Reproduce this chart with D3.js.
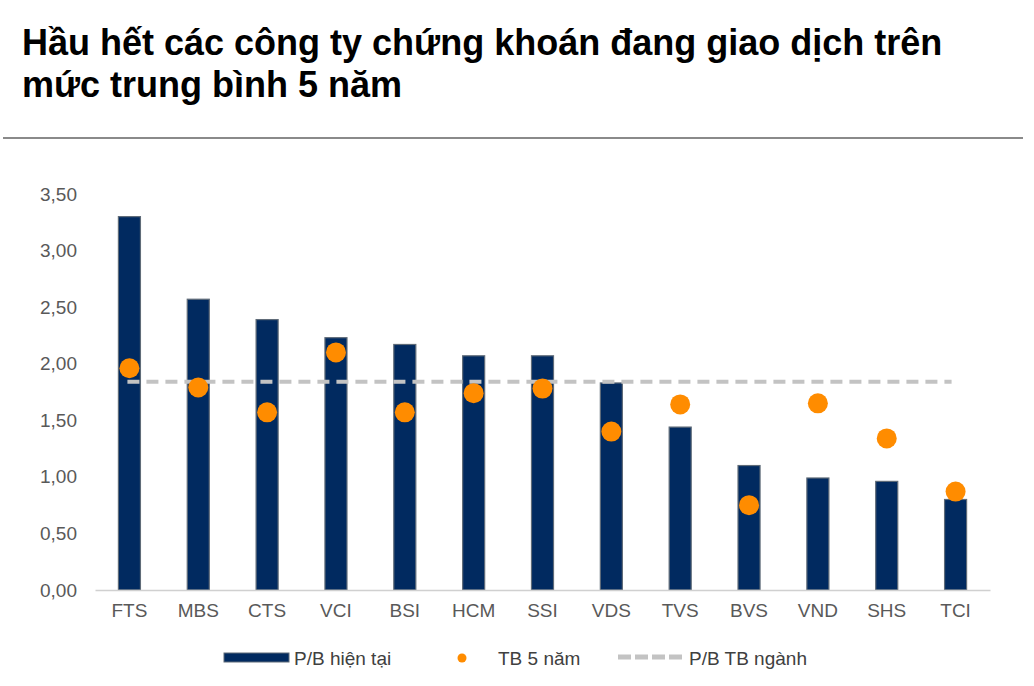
<!DOCTYPE html>
<html>
<head>
<meta charset="utf-8">
<script src="https://cdn.jsdelivr.net/npm/d3@7"></script>
<style>
  body { margin: 0; background: #fff; }
  svg text { font-family: "Liberation Sans", Arial, sans-serif; }
</style>
</head>
<body>
<div id="chart"></div>
<script>
// data
var tickers = ["FTS", "MBS", "CTS", "VCI", "BSI", "HCM", "SSI", "VDS", "TVS", "BVS", "VND", "SHS", "TCI"];
var pbNow = [3.30, 2.57, 2.39, 2.23, 2.17, 2.07, 2.07, 1.83, 1.44, 1.10, 0.99, 0.96, 0.80];
var pbAvg5y = [1.96, 1.79, 1.57, 2.10, 1.57, 1.74, 1.78, 1.40, 1.64, 0.75, 1.65, 1.34, 0.87];
var pbIndustry = 1.84;
var yTicks = [0, 0.5, 1, 1.5, 2, 2.5, 3, 3.5];

var titleLines = ["Hầu hết các công ty chứng khoán đang giao dịch trên", "mức trung bình 5 năm"];
var legendLabels = ["P/B hiện tại", "TB 5 năm", "P/B TB ngành"];

var svgWidth = 1034;
var svgHeight = 686;

var navy = "#012a60";
var orange = "#ff8c00";
var dashGray = "#c3c3c3";

var svg = d3.select("#chart")
  .append("svg")
  .attr("width", svgWidth)
  .attr("height", svgHeight);

// title
svg.append("g")
  .selectAll("text")
  .data(titleLines)
  .enter()
  .append("text")
  .attr("x", 22)
  .attr("y", (d, i) => 55 + i * 42)
  .attr("font-size", "36px")
  .attr("font-weight", "bold")
  .attr("fill", "#000")
  .text(d => d);

// separator
svg.append("line")
  .attr("x1", 3).attr("x2", 1023)
  .attr("y1", 138).attr("y2", 138)
  .attr("stroke", "#8a8a8a")
  .attr("stroke-width", 2);

// scales
var x = d3.scaleBand()
  .domain(tickers)
  .range([95, 990])
  .paddingInner(0.68)
  .paddingOuter(0.34);

var y = d3.scaleLinear()
  .domain([0, 3.5])
  .range([590, 194]);

var fmt = v => d3.format(".2f")(v).replace(".", ",");

// y axis (labels only)
var yAxis = svg.append("g")
  .attr("transform", "translate(81,0)")
  .call(d3.axisLeft(y).tickValues(yTicks).tickFormat(fmt).tickSize(0).tickPadding(4));
yAxis.select(".domain").remove();
yAxis.selectAll("text")
  .attr("font-size", "19px")
  .attr("fill", "#595959");

// bars
svg.append("g")
  .selectAll("rect")
  .data(tickers)
  .enter()
  .append("rect")
  .attr("x", d => x(d))
  .attr("y", (d, i) => y(pbNow[i]))
  .attr("width", x.bandwidth())
  .attr("height", (d, i) => y(0) - y(pbNow[i]))
  .attr("fill", navy)
  .attr("stroke", "#5f6b78")
  .attr("stroke-width", 1.2);

// x axis
var xAxis = svg.append("g")
  .attr("transform", "translate(0,590)")
  .call(d3.axisBottom(x).tickSize(0).tickPadding(14));
xAxis.select(".domain")
  .attr("stroke", "#d0d0d0")
  .attr("stroke-width", 1.5);
xAxis.selectAll("text")
  .attr("font-size", "19px")
  .attr("fill", "#595959");

// industry average dashed line
var cx = d => x(d) + x.bandwidth() / 2;
svg.append("line")
  .attr("x1", cx(tickers[0]) - 2)
  .attr("x2", cx(tickers[tickers.length - 1]) - 4)
  .attr("y1", y(pbIndustry))
  .attr("y2", y(pbIndustry))
  .attr("stroke", dashGray)
  .attr("stroke-width", 4)
  .attr("stroke-dasharray", "12,7");

// 5-year average dots
svg.append("g")
  .selectAll("circle")
  .data(tickers)
  .enter()
  .append("circle")
  .attr("cx", d => cx(d))
  .attr("cy", (d, i) => y(pbAvg5y[i]))
  .attr("r", 10)
  .attr("fill", orange);

// legend
var legend = svg.append("g");
legend.append("rect")
  .attr("x", 224).attr("y", 653)
  .attr("width", 65).attr("height", 9)
  .attr("fill", navy)
  .attr("stroke", "#5f6b78")
  .attr("stroke-width", 1);
legend.append("circle")
  .attr("cx", 462).attr("cy", 658)
  .attr("r", 4.5)
  .attr("fill", orange);
legend.append("line")
  .attr("x1", 618).attr("x2", 683)
  .attr("y1", 657).attr("y2", 657)
  .attr("stroke", dashGray)
  .attr("stroke-width", 5)
  .attr("stroke-dasharray", "13,4");

var legendX = [294, 498, 689];
legend.selectAll("text")
  .data(legendLabels)
  .enter()
  .append("text")
  .attr("x", (d, i) => legendX[i])
  .attr("y", 665)
  .attr("font-size", "19px")
  .attr("fill", "#404040")
  .text(d => d);
</script>
</body>
</html>
